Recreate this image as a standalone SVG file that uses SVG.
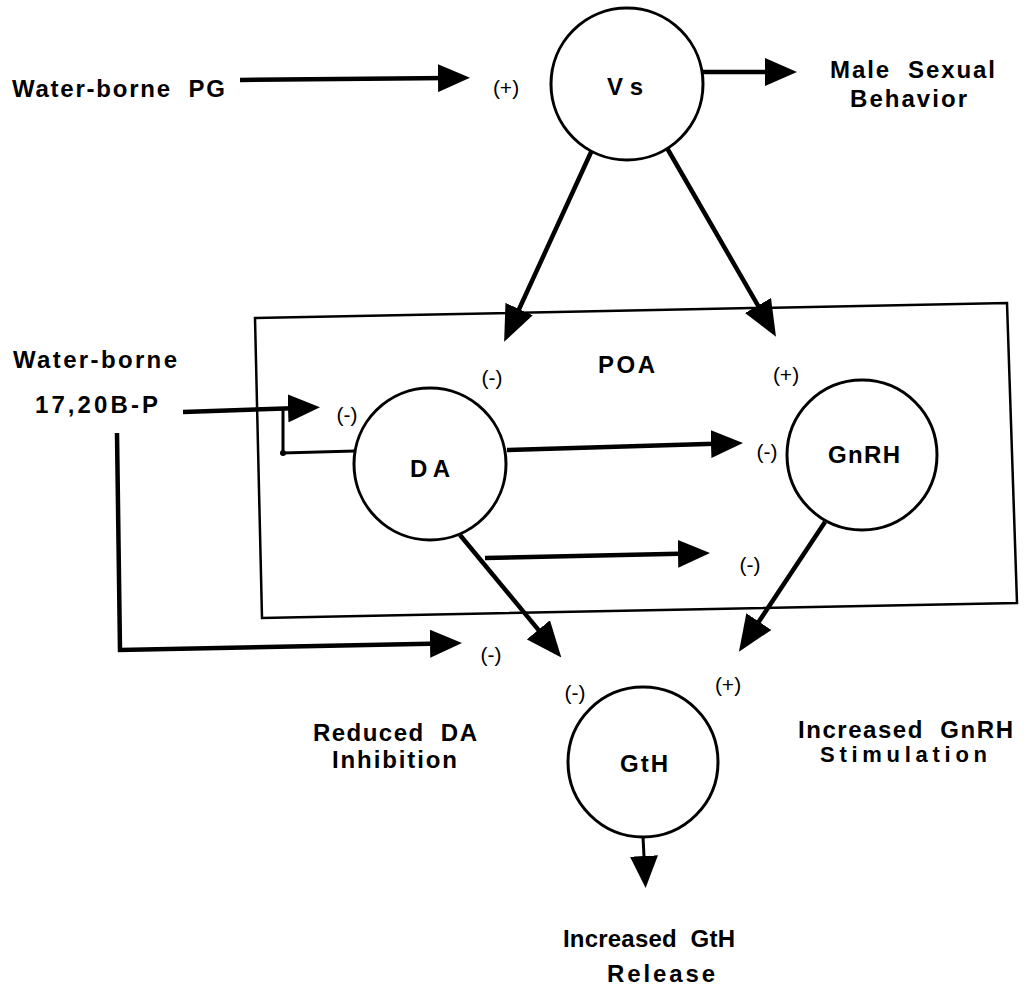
<svg xmlns="http://www.w3.org/2000/svg" width="1026" height="990" viewBox="0 0 1026 990">
<defs>
<style>
.t{font-family:"Liberation Sans",Arial,Helvetica,sans-serif;font-weight:bold;font-size:24px;fill:#000;}
.p{font-family:"Liberation Sans",Arial,Helvetica,sans-serif;font-weight:normal;font-size:21px;fill:#000;text-anchor:middle;}
.node{fill:#fff;stroke:#000;stroke-width:3;}
.ln{fill:none;stroke:#000;stroke-width:4.5;}
.thin{fill:none;stroke:#000;stroke-width:3;}
.box{fill:none;stroke:#000;stroke-width:2.5;}
</style>
<marker id="ah" markerUnits="userSpaceOnUse" markerWidth="32" markerHeight="28" viewBox="0 0 32 28" refX="12" refY="14" orient="auto">
<path d="M0,0 L32,14 L0,28 z" fill="#000"/>
</marker>
<marker id="ahL" markerUnits="userSpaceOnUse" markerWidth="36" markerHeight="30" viewBox="0 0 36 30" refX="14" refY="15" orient="auto">
<path d="M0,0 L36,15 L0,30 z" fill="#000"/>
</marker>
</defs>
<rect width="1026" height="990" fill="#fff"/>

<g id="poa-box">
<polygon class="box" points="255,318 1007,303 1017,603 262,618"/>
<text class="t" x="598" y="373" textLength="57" lengthAdjust="spacing">POA</text>
</g>

<g id="connectors">
<line class="ln" x1="240" y1="80" x2="450" y2="78" marker-end="url(#ah)"/>
<line class="ln" x1="703" y1="72" x2="777" y2="72" marker-end="url(#ah)"/>
<line class="ln" x1="592" y1="150" x2="513.3" y2="321.8" marker-end="url(#ahL)"/>
<line class="ln" x1="667" y1="148" x2="765" y2="317.7" marker-end="url(#ahL)"/>
<line class="ln" x1="183" y1="412" x2="300" y2="408" marker-end="url(#ah)"/>
<polyline class="thin" points="283,408 283,453 355,451"/>
<circle cx="283" cy="453" r="3" fill="#000"/>
<line class="ln" x1="507" y1="450" x2="723" y2="443.6" marker-end="url(#ah)"/>
<line class="ln" x1="485" y1="558" x2="690" y2="553.5" marker-end="url(#ah)"/>
<line class="ln" x1="460" y1="535" x2="547.3" y2="640.6" marker-end="url(#ahL)"/>
<line class="ln" x1="825" y1="522" x2="751.1" y2="633.3" marker-end="url(#ahL)"/>
<polyline class="ln" points="117,433 120,650 442,643.4" marker-end="url(#ah)"/>
<line class="thin" x1="643" y1="837" x2="644.6" y2="868" marker-end="url(#ah)"/>
</g>

<g id="node-vs">
<circle class="node" cx="627" cy="84" r="76"/>
<text class="t" x="607" y="95" textLength="36" lengthAdjust="spacing">Vs</text>
</g>

<g id="node-da">
<circle class="node" cx="430" cy="464" r="76"/>
<text class="t" x="410" y="477" textLength="40" lengthAdjust="spacing">DA</text>
</g>

<g id="node-gnrh">
<circle class="node" cx="862" cy="455" r="75"/>
<text class="t" x="828" y="463" textLength="72" lengthAdjust="spacing">GnRH</text>
</g>

<g id="node-gth">
<circle class="node" cx="643" cy="762" r="75"/>
<text class="t" x="620" y="772" textLength="48" lengthAdjust="spacing">GtH</text>
</g>

<g id="labels">
<text class="t" x="12" y="97" textLength="213" lengthAdjust="spacing" xml:space="preserve">Water-borne  PG</text>
<text class="t" x="830" y="78" textLength="165" lengthAdjust="spacing" xml:space="preserve">Male  Sexual</text>
<text class="t" x="850" y="107" textLength="117" lengthAdjust="spacing">Behavior</text>
<text class="t" x="13" y="368" textLength="164" lengthAdjust="spacing">Water-borne</text>
<text class="t" x="35" y="413" textLength="123" lengthAdjust="spacing">17,20B-P</text>
<text class="t" x="313" y="741" textLength="164" lengthAdjust="spacing" xml:space="preserve">Reduced  DA</text>
<text class="t" x="332" y="768" textLength="125" lengthAdjust="spacing">Inhibition</text>
<text class="t" x="798" y="738" textLength="215" lengthAdjust="spacing" xml:space="preserve">Increased  GnRH</text>
<text class="t" x="820" y="762" style="font-size:22px" textLength="167" lengthAdjust="spacing">Stimulation</text>
<text class="t" x="563" y="947" textLength="172" lengthAdjust="spacing" xml:space="preserve">Increased  GtH</text>
<text class="t" x="607" y="982" textLength="108" lengthAdjust="spacing">Release</text>

<text class="p" x="506" y="95">(+)</text>
<text class="p" x="347" y="422">(-)</text>
<text class="p" x="492" y="385">(-)</text>
<text class="p" x="786" y="382">(+)</text>
<text class="p" x="767" y="459">(-)</text>
<text class="p" x="750" y="572">(-)</text>
<text class="p" x="491" y="662">(-)</text>
<text class="p" x="575" y="700">(-)</text>
<text class="p" x="728" y="692">(+)</text>
</g>
</svg>
